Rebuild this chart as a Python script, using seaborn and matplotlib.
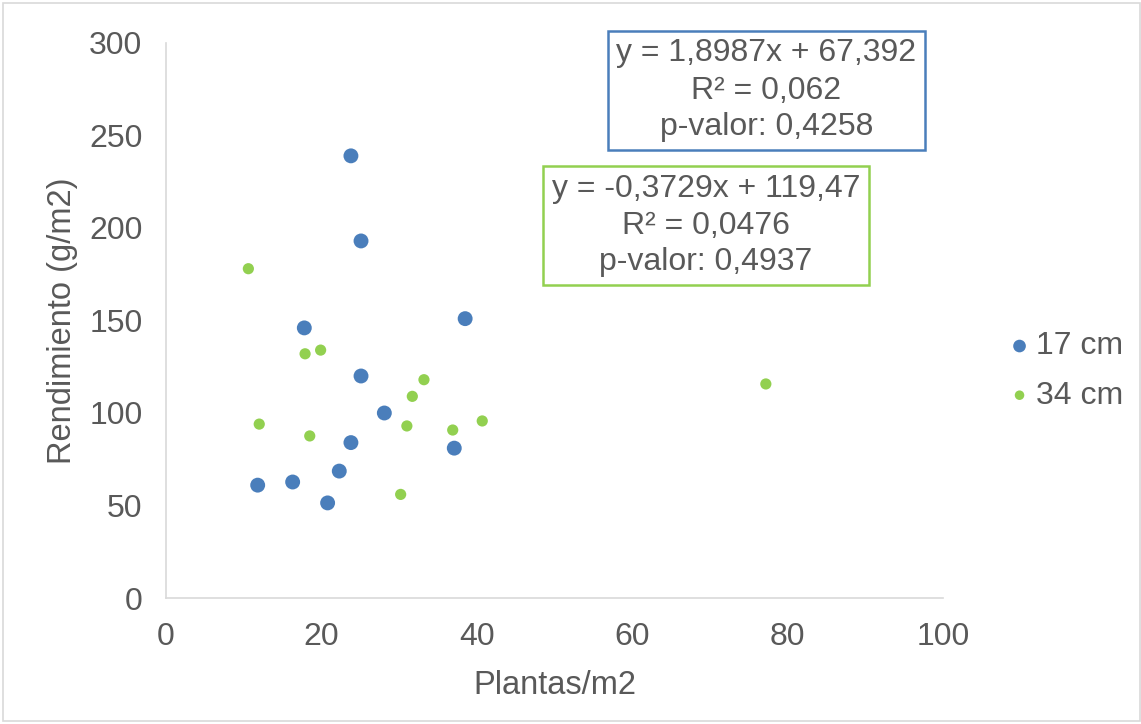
import matplotlib
matplotlib.use("Agg")
import matplotlib.pyplot as plt
import seaborn as sns
import pandas as pd
from matplotlib.patches import Rectangle

x_17 = [23.8, 25.1, 17.8, 38.5, 25.1, 28.1, 23.8, 37.1, 22.3, 16.3, 11.8, 20.8]
y_17 = [239, 193, 146, 151, 120, 100, 84, 81, 68.6, 62.7, 61, 51.4]
x_34 = [10.6, 17.9, 19.9, 33.2, 31.7, 12.0, 18.5, 31.0, 36.9, 40.7, 30.2, 77.2]
y_34 = [178, 132, 134, 118, 109, 94, 87.6, 93, 90.8, 95.7, 56, 115.7]
series = ["17 cm", "34 cm"]
eq_17 = ["y = 1,8987x + 67,392", "R² = 0,062", "p-valor: 0,4258"]
eq_34 = ["y = -0,3729x + 119,47", "R² = 0,0476", "p-valor: 0,4937"]
xticks = [0, 20, 40, 60, 80, 100]
yticks = [0, 50, 100, 150, 200, 250, 300]

blue = "#4a7ebb"
green = "#92d050"
txt = "#595959"
grid = "#d9d9d9"

sns.set_theme(style="white")
plt.rcParams['font.family'] = ['Liberation Sans', 'DejaVu Sans']

df17 = pd.DataFrame({"x": x_17, "y": y_17})
df34 = pd.DataFrame({"x": x_34, "y": y_34})

W, H = 1141, 724
fig = plt.figure(figsize=(W / 100, H / 100), dpi=100)
ax = fig.add_axes([166 / W, 1 - 598 / H, (943 - 166) / W, (598 - 43) / H])

sns.scatterplot(data=df17, x="x", y="y", ax=ax, color=blue, s=115, edgecolor="none", label=series[0], zorder=3)
sns.scatterplot(data=df34, x="x", y="y", ax=ax, color=green, s=65, edgecolor="none", label=series[1], zorder=3)

ax.set_xlim(0, 100)
ax.set_ylim(0, 300)
ax.set_xticks(xticks)
ax.set_yticks(yticks)
ax.tick_params(axis="both", labelsize=23, colors=grid, labelcolor=txt, length=6, width=1.2, direction="out")
ax.tick_params(axis="x", pad=11)
ax.tick_params(axis="y", pad=11)
for s in ["top", "right"]:
    ax.spines[s].set_visible(False)
for s in ["left", "bottom"]:
    ax.spines[s].set_color(grid)
    ax.spines[s].set_linewidth(1.2)
ax.set_xlabel("Plantas/m2", fontsize=23.5, color=txt, labelpad=13)
ax.set_ylabel("Rendimiento (g/m2)", fontsize=23.5, color=txt, labelpad=8)

leg = ax.legend(loc="center left", bbox_to_anchor=(978 / W, 1 - 371 / H), bbox_transform=fig.transFigure,
                frameon=False, fontsize=23, handletextpad=0.1, handlelength=0.8, labelspacing=0.6,
                markerscale=0.85)
for t in leg.get_texts():
    t.set_color(txt)

# equation boxes
def box(x0, y0, x1, y1, color, lines, ys):
    fig.patches.append(Rectangle((x0 / W, 1 - y1 / H), (x1 - x0) / W, (y1 - y0) / H,
                                 transform=fig.transFigure, fill=False, edgecolor=color, linewidth=1.8))
    cx = (x0 + x1) / 2 / W
    for line, yy in zip(lines, ys):
        fig.text(cx, 1 - yy / H, line, ha="center", va="center", fontsize=23, color=txt)

box(608, 31, 925, 150, blue, eq_17, [53, 91, 127])
box(543, 166, 869, 285, green, eq_34, [189, 226, 262])

# outer border
fig.patches.append(Rectangle((3 / W, 3 / H), (W - 4) / W, (H - 6) / H, transform=fig.transFigure,
                             fill=False, edgecolor=grid, linewidth=1.2))

fig.savefig("out.png", dpi=100)
